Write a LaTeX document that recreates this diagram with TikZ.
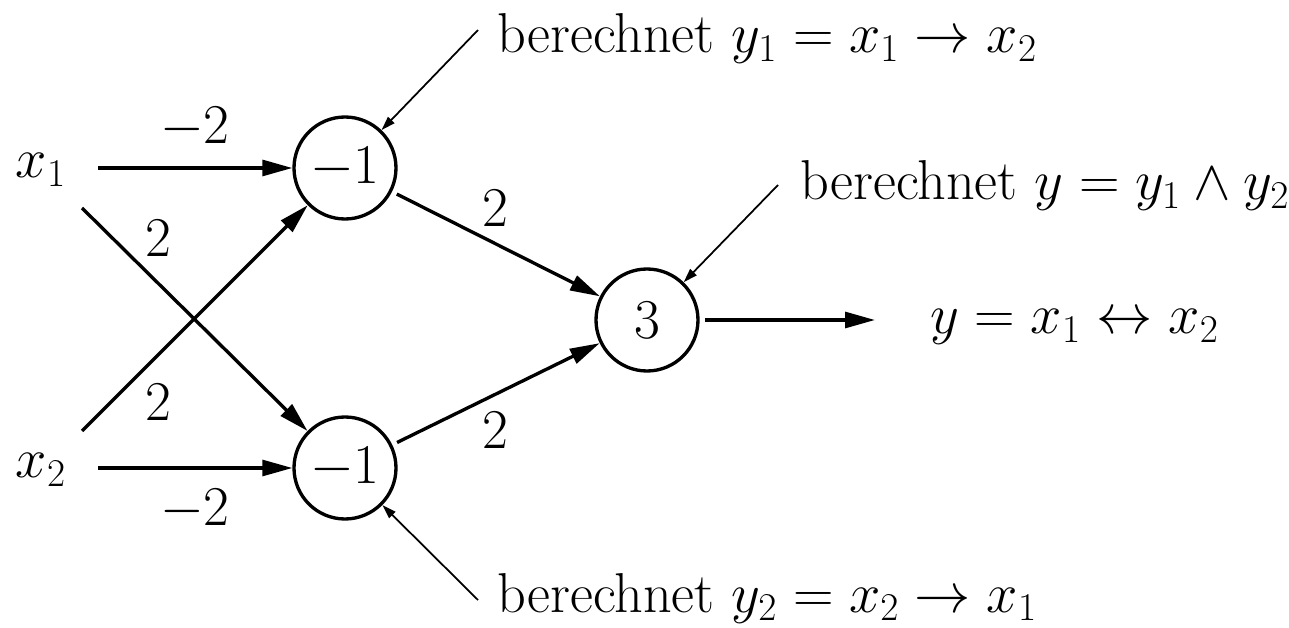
\RequirePackage{fix-cm}
\documentclass[tikz,border=0pt]{standalone}
\usetikzlibrary{arrows.meta}
\begin{document}
\begin{tikzpicture}[x=0.02cm,y=-0.02cm,
  every node/.style={font=\fontsize{32}{38}\selectfont},
  neuron/.style={draw,circle,line width=1.9pt,minimum size=102*0.02cm,inner sep=0pt},
  wire/.style={line width=1.9pt,-{Triangle[length=17pt,width=9pt]}},
  fromn/.style={shorten <=3pt},
  note/.style={line width=1pt,-{Triangle[length=8pt,width=5pt]}},
  lbl/.style={inner sep=0pt}]
\useasboundingbox (0,0) rectangle (1289,628);
% neurons
\node[neuron] (c1) at (345,168) {$-1$};
\node[neuron] (c2) at (345,468) {$-1$};
\node[neuron] (c3) at (647,320) {$3$};
% inputs
\node[lbl] (x1) at (41,170) {$x_1$};
\node[lbl] (x2) at (41,470) {$x_2$};
\coordinate (s1) at (98,168);
\coordinate (s2) at (98,468);
\coordinate (d1) at (82,208);
\coordinate (d2) at (82,431);
\coordinate (out) at (875,320);
\draw[wire] (s1) -- (c1);
\draw[wire] (s2) -- (c2);
\draw[wire] (d1) -- (c2);
\draw[wire] (d2) -- (c1);
\draw[wire,fromn] (c1) -- (c3);
\draw[wire,fromn] (c2) -- (c3);
\draw[wire,fromn] (c3) -- (out);
% weights
\node[lbl] (w1) at (195,128) {$-2$};
\node[lbl] (w2) at (195,510) {$-2$};
\node[lbl] (w3) at (158,238) {$2$};
\node[lbl] (w4) at (158,402) {$2$};
\node[lbl] (w5) at (495,208) {$2$};
\node[lbl] (w6) at (495,430) {$2$};
% output
\node[lbl,anchor=base west] (y) at (930,334) {$y = x_1 \leftrightarrow x_2$};
% notes
\node[lbl,anchor=base west] (n1) at (497,53) {berechnet $y_1 = x_1 \to x_2$};
\node[lbl,anchor=base west] (n2) at (800,200) {berechnet $y = y_1 \wedge y_2$};
\node[lbl,anchor=base west] (n3) at (497,612) {berechnet $y_2 = x_2 \to x_1$};
\coordinate (a1) at (478,30);
\coordinate (a2) at (778,185);
\coordinate (a3) at (478,600);
\draw[note] (a1) -- (c1);
\draw[note] (a2) -- (c3);
\draw[note] (a3) -- (c2);
\end{tikzpicture}
\end{document}
